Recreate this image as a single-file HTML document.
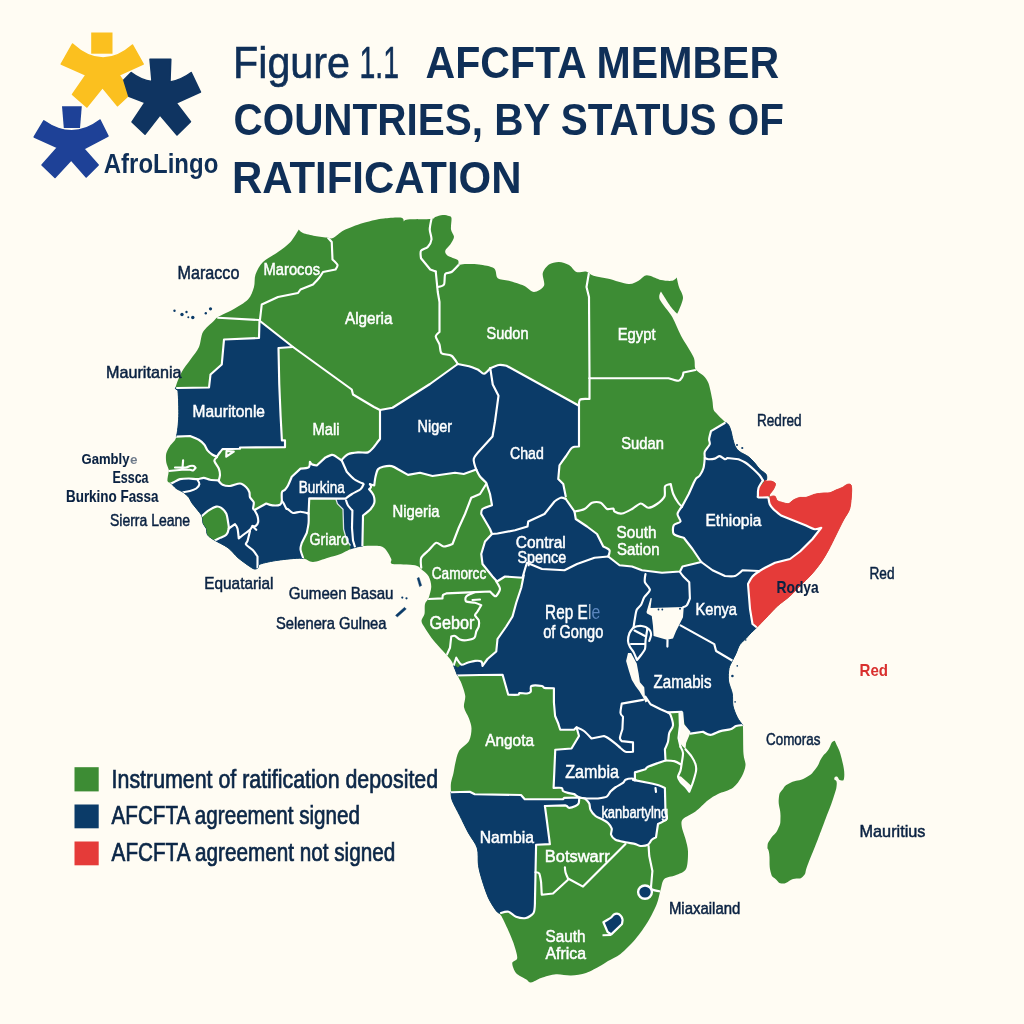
<!DOCTYPE html>
<html lang="en"><head><meta charset="utf-8"><title>AfCFTA member countries, by status of ratification</title>
<style>
html,body{margin:0;padding:0;background:#FFFCF3;}
body{width:1024px;height:1024px;overflow:hidden;font-family:"Liberation Sans",sans-serif;}
svg{display:block;font-family:"Liberation Sans",sans-serif;}
.w{fill:#ffffff;stroke:#ffffff;stroke-width:0.5px}.n{fill:#0A2242;stroke:#0A2242;stroke-width:0.5px}
.b{fill:none;stroke:#FFFFFF;stroke-width:2.15;stroke-linejoin:round;stroke-linecap:round}
</style></head><body>
<svg width="1024" height="1024" viewBox="0 0 1024 1024">
<rect width="1024" height="1024" fill="#FFFCF3"/>

<defs><clipPath id="land"><path d="M298.75,229.5 C298.75,229.50 300.56,232.03 303.00,233.00 C305.44,233.97 311.25,235.29 315.00,236.00 C318.75,236.71 325.30,237.45 328.00,237.75 C330.70,238.05 330.75,239.05 333.00,238.00 C335.25,236.95 340.00,232.47 343.00,230.75 C346.00,229.03 350.00,227.66 353.00,226.50 C356.00,225.34 359.70,223.97 363.00,223.00 C366.30,222.03 371.85,220.68 375.00,220.00 C378.15,219.32 380.02,218.84 384.00,218.50 C387.98,218.16 398.57,217.22 401.50,217.75 C404.43,218.28 403.50,222.00 403.50,222.00 C403.50,222.00 403.55,219.95 407.75,219.50 C411.95,219.05 427.38,219.38 431.50,219.00 C435.62,218.62 433.56,217.60 435.25,217.00 C436.94,216.40 440.69,215.15 442.75,215.00 C444.81,214.85 447.69,215.51 449.00,216.00 C450.31,216.49 451.20,216.22 451.50,218.25 C451.80,220.28 450.62,226.69 451.00,229.50 C451.38,232.31 454.11,234.75 454.00,237.00 C453.89,239.25 451.56,242.44 450.25,244.50 C448.94,246.56 445.62,249.06 445.25,250.75 C444.88,252.44 445.88,254.36 447.75,255.75 C449.62,257.14 456.06,258.69 457.75,260.00 C459.44,261.31 457.69,263.90 459.00,264.50 C460.31,265.10 463.50,264.00 466.50,264.00 C469.50,264.00 474.88,263.86 479.00,264.50 C483.12,265.14 491.19,266.19 494.00,268.25 C496.81,270.31 495.50,276.38 497.75,278.25 C500.00,280.12 505.06,279.62 509.00,280.75 C512.94,281.88 520.25,284.06 524.00,285.75 C527.75,287.44 531.00,292.00 534.00,292.00 C537.00,292.00 542.69,288.56 544.00,285.75 C545.31,282.94 542.00,276.44 542.75,273.25 C543.50,270.06 546.56,266.19 549.00,264.50 C551.44,262.81 556.00,261.93 559.00,262.00 C562.00,262.07 566.38,263.50 569.00,265.00 C571.62,266.50 573.95,271.02 576.50,272.00 C579.05,272.98 583.45,270.94 586.00,271.50 C588.55,272.06 590.12,274.66 593.50,275.75 C596.88,276.84 603.25,277.51 608.50,278.75 C613.75,279.99 624.00,283.70 628.50,284.00 C633.00,284.30 636.06,281.99 638.50,280.75 C640.94,279.51 643.06,276.50 644.75,275.75 C646.44,275.00 647.31,275.11 649.75,275.75 C652.19,276.39 657.62,279.25 661.00,280.00 C664.38,280.75 669.89,281.12 672.25,280.75 C674.61,280.38 676.75,277.50 676.75,277.50 C676.75,277.50 678.06,283.89 679.00,287.00 C679.94,290.11 683.26,294.24 683.00,298.25 C682.74,302.26 677.25,313.75 677.25,313.75 C677.25,313.75 673.44,310.34 671.00,307.00 C668.56,303.66 661.00,291.50 661.00,291.50 C661.00,291.50 658.06,295.68 659.75,299.50 C661.44,303.32 669.06,311.56 672.25,317.00 C675.44,322.44 677.81,329.75 681.00,335.75 C684.19,341.75 691.33,352.01 693.50,357.00 C695.67,361.99 694.00,366.19 695.50,369.00 C697.00,371.81 701.55,373.61 703.50,375.75 C705.45,377.89 707.19,379.69 708.50,383.25 C709.81,386.81 711.50,395.56 712.25,399.50 C713.00,403.44 712.75,407.29 713.50,409.50 C714.25,411.71 715.75,412.60 717.25,414.25 C718.75,415.90 721.81,418.90 723.50,420.50 C725.19,422.10 727.38,423.31 728.50,424.90 C729.62,426.49 730.34,428.95 731.00,431.10 C731.66,433.25 732.24,436.90 732.90,439.25 C733.56,441.60 734.37,444.88 735.40,446.75 C736.43,448.62 737.78,450.25 739.75,451.75 C741.72,453.25 746.25,455.06 748.50,456.75 C750.75,458.44 753.06,461.12 754.75,463.00 C756.44,464.88 758.06,467.56 759.75,469.25 C761.44,470.94 764.97,472.75 766.00,474.25 C767.03,475.75 766.75,478.16 766.60,479.25 C766.45,480.34 765.00,481.50 765.00,481.50 C765.00,481.50 769.44,480.79 771.00,481.10 C772.56,481.42 775.02,482.38 775.40,483.60 C775.77,484.82 774.35,487.65 773.50,489.25 C772.65,490.85 770.31,493.12 769.75,494.25 C769.19,495.38 769.75,496.75 769.75,496.75 C769.75,496.75 773.62,495.54 774.75,496.10 C775.88,496.66 776.12,499.56 777.25,500.50 C778.38,501.44 780.56,501.93 782.25,502.40 C783.94,502.87 786.81,503.98 788.50,503.60 C790.19,503.23 791.81,500.83 793.50,499.90 C795.19,498.97 797.88,497.77 799.75,497.40 C801.62,497.02 803.75,497.87 806.00,497.40 C808.25,496.93 812.05,494.91 814.75,494.25 C817.45,493.59 821.71,493.23 824.00,493.00 C826.29,492.77 828.20,493.20 830.00,492.75 C831.80,492.30 834.16,490.79 836.00,490.00 C837.84,489.21 840.56,488.34 842.25,487.50 C843.94,486.66 845.94,484.77 847.25,484.40 C848.56,484.02 850.35,483.78 851.00,485.00 C851.65,486.22 851.79,488.94 851.60,492.50 C851.41,496.06 850.97,504.62 849.75,508.75 C848.53,512.88 845.56,516.06 843.50,520.00 C841.44,523.94 838.25,530.50 836.00,535.00 C833.75,539.50 830.75,545.88 828.50,550.00 C826.25,554.12 823.62,558.75 821.00,562.50 C818.38,566.25 814.00,571.62 811.00,575.00 C808.00,578.38 804.19,581.81 801.00,585.00 C797.81,588.19 793.31,593.06 789.75,596.25 C786.19,599.44 780.81,602.99 777.25,606.25 C773.69,609.51 769.00,614.89 766.00,618.00 C763.00,621.11 759.65,624.60 757.25,627.00 C754.85,629.40 751.69,632.27 750.00,634.00 C748.31,635.73 747.54,636.89 746.00,638.50 C744.46,640.11 741.25,642.50 739.75,644.75 C738.25,647.00 737.12,651.06 736.00,653.50 C734.88,655.94 733.30,658.75 732.25,661.00 C731.20,663.25 729.56,665.50 729.00,668.50 C728.44,671.50 728.01,677.25 728.50,681.00 C728.99,684.75 731.58,689.75 732.25,693.50 C732.92,697.25 732.25,702.44 733.00,706.00 C733.75,709.56 735.86,714.44 737.25,717.25 C738.64,720.06 741.39,723.17 742.25,724.75 C743.11,726.33 742.81,723.36 743.00,727.75 C743.19,732.14 743.12,748.38 743.50,754.00 C743.88,759.62 745.76,761.88 745.50,765.25 C745.24,768.62 743.62,773.12 741.75,776.50 C739.88,779.88 736.56,785.12 733.00,787.75 C729.44,790.38 721.75,792.12 718.00,794.00 C714.25,795.88 711.38,797.62 708.00,800.25 C704.62,802.88 699.25,808.69 695.50,811.50 C691.75,814.31 685.06,816.75 683.00,819.00 C680.94,821.25 681.38,823.50 681.75,826.50 C682.12,829.50 684.56,835.25 685.50,839.00 C686.44,842.75 687.92,847.00 688.00,851.50 C688.08,856.00 687.88,865.44 686.00,869.00 C684.12,872.56 678.76,873.75 675.50,875.25 C672.24,876.75 666.50,876.75 664.25,879.00 C662.00,881.25 661.62,886.50 660.50,890.25 C659.38,894.00 658.62,899.31 656.75,904.00 C654.88,908.69 651.19,916.25 648.00,921.50 C644.81,926.75 639.62,934.12 635.50,939.00 C631.38,943.88 624.62,950.70 620.50,954.00 C616.38,957.30 610.92,959.27 608.00,961.00 C605.08,962.73 604.30,963.70 601.00,965.50 C597.70,967.30 590.50,971.50 586.00,973.00 C581.50,974.50 575.50,975.31 571.00,975.50 C566.50,975.69 560.50,973.88 556.00,974.25 C551.50,974.62 544.75,976.76 541.00,978.00 C537.25,979.24 533.25,982.31 531.00,982.50 C528.75,982.69 528.25,980.67 526.00,979.25 C523.75,977.83 518.06,975.44 516.00,973.00 C513.94,970.56 512.06,965.25 512.25,963.00 C512.44,960.75 517.06,961.00 517.25,958.00 C517.44,955.00 515.00,947.50 513.50,943.00 C512.00,938.50 509.12,932.12 507.25,928.00 C505.38,923.88 502.69,918.12 501.00,915.50 C499.31,912.88 497.88,913.12 496.00,910.50 C494.12,907.88 490.56,902.50 488.50,898.00 C486.44,893.50 483.75,885.38 482.25,880.50 C480.75,875.62 479.25,870.38 478.50,865.50 C477.75,860.62 478.75,852.88 477.25,848.00 C475.75,843.12 471.12,837.88 468.50,833.00 C465.88,828.12 462.19,820.38 459.75,815.50 C457.31,810.62 453.56,804.06 452.25,800.50 C450.94,796.94 451.19,794.38 451.00,791.75 C450.81,789.12 450.62,785.81 451.00,783.00 C451.38,780.19 452.86,775.92 453.50,773.00 C454.14,770.08 454.43,766.80 455.25,763.50 C456.07,760.20 456.94,754.38 459.00,751.00 C461.06,747.62 467.12,744.38 469.00,741.00 C470.88,737.62 471.50,731.88 471.50,728.50 C471.50,725.12 470.12,721.69 469.00,718.50 C467.88,715.31 464.56,710.62 464.00,707.25 C463.44,703.88 465.62,699.56 465.25,696.00 C464.88,692.44 462.62,686.50 461.50,683.50 C460.38,680.50 458.69,678.06 457.75,676.00 C456.81,673.94 456.19,672.00 455.25,669.75 C454.31,667.50 453.00,663.44 451.50,661.00 C450.00,658.56 447.88,656.50 445.25,653.50 C442.62,650.50 437.00,644.75 434.00,641.00 C431.00,637.25 427.12,631.50 425.25,628.50 C423.38,625.50 421.61,623.17 421.50,621.00 C421.39,618.83 423.98,616.55 424.50,614.00 C425.02,611.45 424.36,606.44 425.00,604.00 C425.64,601.56 427.81,600.38 428.75,597.75 C429.69,595.12 431.25,589.69 431.25,586.50 C431.25,583.31 430.06,578.94 428.75,576.50 C427.44,574.06 424.56,571.94 422.50,570.25 C420.44,568.56 419.50,566.19 415.00,565.25 C410.50,564.31 396.06,564.94 392.50,564.00 C388.94,563.06 392.19,561.06 391.25,559.00 C390.31,556.94 387.94,552.20 386.25,550.25 C384.56,548.30 383.56,546.64 380.00,546.00 C376.44,545.36 366.36,545.74 362.50,546.00 C358.64,546.26 356.05,547.30 354.25,547.75 C352.45,548.20 352.56,548.06 350.50,549.00 C348.44,549.94 343.88,552.69 340.50,554.00 C337.12,555.31 332.12,556.55 328.00,557.75 C323.88,558.95 316.94,561.92 313.00,562.00 C309.06,562.08 307.00,558.51 301.75,558.25 C296.50,557.99 284.19,559.39 278.00,560.25 C271.81,561.11 263.50,562.88 260.50,564.00 C257.50,565.12 258.94,567.00 258.00,567.75 C257.06,568.50 255.75,569.38 254.25,569.00 C252.75,568.62 250.44,566.94 248.00,565.25 C245.56,563.56 241.00,560.38 238.00,557.75 C235.00,555.12 231.64,550.45 228.00,547.75 C224.36,545.05 216.82,541.70 213.75,539.75 C210.68,537.80 208.62,536.44 207.50,534.75 C206.38,533.06 206.91,530.19 206.25,528.50 C205.59,526.81 203.75,525.38 203.10,523.50 C202.45,521.62 202.85,518.17 201.90,516.00 C200.95,513.83 198.27,510.99 196.75,509.00 C195.23,507.01 192.95,504.51 191.75,502.75 C190.55,500.99 190.05,498.82 188.75,497.25 C187.45,495.68 184.97,493.56 183.10,492.25 C181.22,490.94 178.03,489.81 176.25,488.50 C174.47,487.19 172.56,484.62 171.25,483.50 C169.94,482.38 167.91,482.57 167.50,481.00 C167.09,479.43 168.31,474.69 168.50,473.00 C168.69,471.31 169.09,471.36 168.75,469.75 C168.41,468.14 166.62,464.69 166.25,462.25 C165.88,459.81 165.69,455.94 166.25,453.50 C166.81,451.06 168.50,448.44 170.00,446.00 C171.50,443.56 174.94,441.68 176.25,437.25 C177.56,432.82 178.49,423.36 178.75,416.50 C179.01,409.64 178.49,395.81 178.00,391.50 C177.51,387.19 174.94,390.68 175.50,387.75 C176.06,384.82 179.50,376.24 181.75,372.00 C184.00,367.76 187.91,363.25 190.50,359.50 C193.09,355.75 197.12,351.12 199.00,347.00 C200.88,342.88 200.75,335.94 203.00,332.00 C205.25,328.06 211.75,323.00 214.00,320.75 C216.25,318.50 215.15,318.69 218.00,317.00 C220.85,315.31 228.50,312.12 233.00,309.50 C237.50,306.88 244.85,302.88 248.00,299.50 C251.15,296.12 252.88,290.75 254.00,287.00 C255.12,283.25 254.15,278.25 255.50,274.50 C256.85,270.75 259.62,265.38 263.00,262.00 C266.38,258.62 273.88,255.00 278.00,252.00 C282.12,249.00 287.39,245.38 290.50,242.00 C293.61,238.62 298.75,229.50 298.75,229.50Z"/></clipPath></defs>
<g id="map">
<path d="M298.75,229.5 C298.75,229.50 300.56,232.03 303.00,233.00 C305.44,233.97 311.25,235.29 315.00,236.00 C318.75,236.71 325.30,237.45 328.00,237.75 C330.70,238.05 330.75,239.05 333.00,238.00 C335.25,236.95 340.00,232.47 343.00,230.75 C346.00,229.03 350.00,227.66 353.00,226.50 C356.00,225.34 359.70,223.97 363.00,223.00 C366.30,222.03 371.85,220.68 375.00,220.00 C378.15,219.32 380.02,218.84 384.00,218.50 C387.98,218.16 398.57,217.22 401.50,217.75 C404.43,218.28 403.50,222.00 403.50,222.00 C403.50,222.00 403.55,219.95 407.75,219.50 C411.95,219.05 427.38,219.38 431.50,219.00 C435.62,218.62 433.56,217.60 435.25,217.00 C436.94,216.40 440.69,215.15 442.75,215.00 C444.81,214.85 447.69,215.51 449.00,216.00 C450.31,216.49 451.20,216.22 451.50,218.25 C451.80,220.28 450.62,226.69 451.00,229.50 C451.38,232.31 454.11,234.75 454.00,237.00 C453.89,239.25 451.56,242.44 450.25,244.50 C448.94,246.56 445.62,249.06 445.25,250.75 C444.88,252.44 445.88,254.36 447.75,255.75 C449.62,257.14 456.06,258.69 457.75,260.00 C459.44,261.31 457.69,263.90 459.00,264.50 C460.31,265.10 463.50,264.00 466.50,264.00 C469.50,264.00 474.88,263.86 479.00,264.50 C483.12,265.14 491.19,266.19 494.00,268.25 C496.81,270.31 495.50,276.38 497.75,278.25 C500.00,280.12 505.06,279.62 509.00,280.75 C512.94,281.88 520.25,284.06 524.00,285.75 C527.75,287.44 531.00,292.00 534.00,292.00 C537.00,292.00 542.69,288.56 544.00,285.75 C545.31,282.94 542.00,276.44 542.75,273.25 C543.50,270.06 546.56,266.19 549.00,264.50 C551.44,262.81 556.00,261.93 559.00,262.00 C562.00,262.07 566.38,263.50 569.00,265.00 C571.62,266.50 573.95,271.02 576.50,272.00 C579.05,272.98 583.45,270.94 586.00,271.50 C588.55,272.06 590.12,274.66 593.50,275.75 C596.88,276.84 603.25,277.51 608.50,278.75 C613.75,279.99 624.00,283.70 628.50,284.00 C633.00,284.30 636.06,281.99 638.50,280.75 C640.94,279.51 643.06,276.50 644.75,275.75 C646.44,275.00 647.31,275.11 649.75,275.75 C652.19,276.39 657.62,279.25 661.00,280.00 C664.38,280.75 669.89,281.12 672.25,280.75 C674.61,280.38 676.75,277.50 676.75,277.50 C676.75,277.50 678.06,283.89 679.00,287.00 C679.94,290.11 683.26,294.24 683.00,298.25 C682.74,302.26 677.25,313.75 677.25,313.75 C677.25,313.75 673.44,310.34 671.00,307.00 C668.56,303.66 661.00,291.50 661.00,291.50 C661.00,291.50 658.06,295.68 659.75,299.50 C661.44,303.32 669.06,311.56 672.25,317.00 C675.44,322.44 677.81,329.75 681.00,335.75 C684.19,341.75 691.33,352.01 693.50,357.00 C695.67,361.99 694.00,366.19 695.50,369.00 C697.00,371.81 701.55,373.61 703.50,375.75 C705.45,377.89 707.19,379.69 708.50,383.25 C709.81,386.81 711.50,395.56 712.25,399.50 C713.00,403.44 712.75,407.29 713.50,409.50 C714.25,411.71 715.75,412.60 717.25,414.25 C718.75,415.90 721.81,418.90 723.50,420.50 C725.19,422.10 727.38,423.31 728.50,424.90 C729.62,426.49 730.34,428.95 731.00,431.10 C731.66,433.25 732.24,436.90 732.90,439.25 C733.56,441.60 734.37,444.88 735.40,446.75 C736.43,448.62 737.78,450.25 739.75,451.75 C741.72,453.25 746.25,455.06 748.50,456.75 C750.75,458.44 753.06,461.12 754.75,463.00 C756.44,464.88 758.06,467.56 759.75,469.25 C761.44,470.94 764.97,472.75 766.00,474.25 C767.03,475.75 766.75,478.16 766.60,479.25 C766.45,480.34 765.00,481.50 765.00,481.50 C765.00,481.50 769.44,480.79 771.00,481.10 C772.56,481.42 775.02,482.38 775.40,483.60 C775.77,484.82 774.35,487.65 773.50,489.25 C772.65,490.85 770.31,493.12 769.75,494.25 C769.19,495.38 769.75,496.75 769.75,496.75 C769.75,496.75 773.62,495.54 774.75,496.10 C775.88,496.66 776.12,499.56 777.25,500.50 C778.38,501.44 780.56,501.93 782.25,502.40 C783.94,502.87 786.81,503.98 788.50,503.60 C790.19,503.23 791.81,500.83 793.50,499.90 C795.19,498.97 797.88,497.77 799.75,497.40 C801.62,497.02 803.75,497.87 806.00,497.40 C808.25,496.93 812.05,494.91 814.75,494.25 C817.45,493.59 821.71,493.23 824.00,493.00 C826.29,492.77 828.20,493.20 830.00,492.75 C831.80,492.30 834.16,490.79 836.00,490.00 C837.84,489.21 840.56,488.34 842.25,487.50 C843.94,486.66 845.94,484.77 847.25,484.40 C848.56,484.02 850.35,483.78 851.00,485.00 C851.65,486.22 851.79,488.94 851.60,492.50 C851.41,496.06 850.97,504.62 849.75,508.75 C848.53,512.88 845.56,516.06 843.50,520.00 C841.44,523.94 838.25,530.50 836.00,535.00 C833.75,539.50 830.75,545.88 828.50,550.00 C826.25,554.12 823.62,558.75 821.00,562.50 C818.38,566.25 814.00,571.62 811.00,575.00 C808.00,578.38 804.19,581.81 801.00,585.00 C797.81,588.19 793.31,593.06 789.75,596.25 C786.19,599.44 780.81,602.99 777.25,606.25 C773.69,609.51 769.00,614.89 766.00,618.00 C763.00,621.11 759.65,624.60 757.25,627.00 C754.85,629.40 751.69,632.27 750.00,634.00 C748.31,635.73 747.54,636.89 746.00,638.50 C744.46,640.11 741.25,642.50 739.75,644.75 C738.25,647.00 737.12,651.06 736.00,653.50 C734.88,655.94 733.30,658.75 732.25,661.00 C731.20,663.25 729.56,665.50 729.00,668.50 C728.44,671.50 728.01,677.25 728.50,681.00 C728.99,684.75 731.58,689.75 732.25,693.50 C732.92,697.25 732.25,702.44 733.00,706.00 C733.75,709.56 735.86,714.44 737.25,717.25 C738.64,720.06 741.39,723.17 742.25,724.75 C743.11,726.33 742.81,723.36 743.00,727.75 C743.19,732.14 743.12,748.38 743.50,754.00 C743.88,759.62 745.76,761.88 745.50,765.25 C745.24,768.62 743.62,773.12 741.75,776.50 C739.88,779.88 736.56,785.12 733.00,787.75 C729.44,790.38 721.75,792.12 718.00,794.00 C714.25,795.88 711.38,797.62 708.00,800.25 C704.62,802.88 699.25,808.69 695.50,811.50 C691.75,814.31 685.06,816.75 683.00,819.00 C680.94,821.25 681.38,823.50 681.75,826.50 C682.12,829.50 684.56,835.25 685.50,839.00 C686.44,842.75 687.92,847.00 688.00,851.50 C688.08,856.00 687.88,865.44 686.00,869.00 C684.12,872.56 678.76,873.75 675.50,875.25 C672.24,876.75 666.50,876.75 664.25,879.00 C662.00,881.25 661.62,886.50 660.50,890.25 C659.38,894.00 658.62,899.31 656.75,904.00 C654.88,908.69 651.19,916.25 648.00,921.50 C644.81,926.75 639.62,934.12 635.50,939.00 C631.38,943.88 624.62,950.70 620.50,954.00 C616.38,957.30 610.92,959.27 608.00,961.00 C605.08,962.73 604.30,963.70 601.00,965.50 C597.70,967.30 590.50,971.50 586.00,973.00 C581.50,974.50 575.50,975.31 571.00,975.50 C566.50,975.69 560.50,973.88 556.00,974.25 C551.50,974.62 544.75,976.76 541.00,978.00 C537.25,979.24 533.25,982.31 531.00,982.50 C528.75,982.69 528.25,980.67 526.00,979.25 C523.75,977.83 518.06,975.44 516.00,973.00 C513.94,970.56 512.06,965.25 512.25,963.00 C512.44,960.75 517.06,961.00 517.25,958.00 C517.44,955.00 515.00,947.50 513.50,943.00 C512.00,938.50 509.12,932.12 507.25,928.00 C505.38,923.88 502.69,918.12 501.00,915.50 C499.31,912.88 497.88,913.12 496.00,910.50 C494.12,907.88 490.56,902.50 488.50,898.00 C486.44,893.50 483.75,885.38 482.25,880.50 C480.75,875.62 479.25,870.38 478.50,865.50 C477.75,860.62 478.75,852.88 477.25,848.00 C475.75,843.12 471.12,837.88 468.50,833.00 C465.88,828.12 462.19,820.38 459.75,815.50 C457.31,810.62 453.56,804.06 452.25,800.50 C450.94,796.94 451.19,794.38 451.00,791.75 C450.81,789.12 450.62,785.81 451.00,783.00 C451.38,780.19 452.86,775.92 453.50,773.00 C454.14,770.08 454.43,766.80 455.25,763.50 C456.07,760.20 456.94,754.38 459.00,751.00 C461.06,747.62 467.12,744.38 469.00,741.00 C470.88,737.62 471.50,731.88 471.50,728.50 C471.50,725.12 470.12,721.69 469.00,718.50 C467.88,715.31 464.56,710.62 464.00,707.25 C463.44,703.88 465.62,699.56 465.25,696.00 C464.88,692.44 462.62,686.50 461.50,683.50 C460.38,680.50 458.69,678.06 457.75,676.00 C456.81,673.94 456.19,672.00 455.25,669.75 C454.31,667.50 453.00,663.44 451.50,661.00 C450.00,658.56 447.88,656.50 445.25,653.50 C442.62,650.50 437.00,644.75 434.00,641.00 C431.00,637.25 427.12,631.50 425.25,628.50 C423.38,625.50 421.61,623.17 421.50,621.00 C421.39,618.83 423.98,616.55 424.50,614.00 C425.02,611.45 424.36,606.44 425.00,604.00 C425.64,601.56 427.81,600.38 428.75,597.75 C429.69,595.12 431.25,589.69 431.25,586.50 C431.25,583.31 430.06,578.94 428.75,576.50 C427.44,574.06 424.56,571.94 422.50,570.25 C420.44,568.56 419.50,566.19 415.00,565.25 C410.50,564.31 396.06,564.94 392.50,564.00 C388.94,563.06 392.19,561.06 391.25,559.00 C390.31,556.94 387.94,552.20 386.25,550.25 C384.56,548.30 383.56,546.64 380.00,546.00 C376.44,545.36 366.36,545.74 362.50,546.00 C358.64,546.26 356.05,547.30 354.25,547.75 C352.45,548.20 352.56,548.06 350.50,549.00 C348.44,549.94 343.88,552.69 340.50,554.00 C337.12,555.31 332.12,556.55 328.00,557.75 C323.88,558.95 316.94,561.92 313.00,562.00 C309.06,562.08 307.00,558.51 301.75,558.25 C296.50,557.99 284.19,559.39 278.00,560.25 C271.81,561.11 263.50,562.88 260.50,564.00 C257.50,565.12 258.94,567.00 258.00,567.75 C257.06,568.50 255.75,569.38 254.25,569.00 C252.75,568.62 250.44,566.94 248.00,565.25 C245.56,563.56 241.00,560.38 238.00,557.75 C235.00,555.12 231.64,550.45 228.00,547.75 C224.36,545.05 216.82,541.70 213.75,539.75 C210.68,537.80 208.62,536.44 207.50,534.75 C206.38,533.06 206.91,530.19 206.25,528.50 C205.59,526.81 203.75,525.38 203.10,523.50 C202.45,521.62 202.85,518.17 201.90,516.00 C200.95,513.83 198.27,510.99 196.75,509.00 C195.23,507.01 192.95,504.51 191.75,502.75 C190.55,500.99 190.05,498.82 188.75,497.25 C187.45,495.68 184.97,493.56 183.10,492.25 C181.22,490.94 178.03,489.81 176.25,488.50 C174.47,487.19 172.56,484.62 171.25,483.50 C169.94,482.38 167.91,482.57 167.50,481.00 C167.09,479.43 168.31,474.69 168.50,473.00 C168.69,471.31 169.09,471.36 168.75,469.75 C168.41,468.14 166.62,464.69 166.25,462.25 C165.88,459.81 165.69,455.94 166.25,453.50 C166.81,451.06 168.50,448.44 170.00,446.00 C171.50,443.56 174.94,441.68 176.25,437.25 C177.56,432.82 178.49,423.36 178.75,416.50 C179.01,409.64 178.49,395.81 178.00,391.50 C177.51,387.19 174.94,390.68 175.50,387.75 C176.06,384.82 179.50,376.24 181.75,372.00 C184.00,367.76 187.91,363.25 190.50,359.50 C193.09,355.75 197.12,351.12 199.00,347.00 C200.88,342.88 200.75,335.94 203.00,332.00 C205.25,328.06 211.75,323.00 214.00,320.75 C216.25,318.50 215.15,318.69 218.00,317.00 C220.85,315.31 228.50,312.12 233.00,309.50 C237.50,306.88 244.85,302.88 248.00,299.50 C251.15,296.12 252.88,290.75 254.00,287.00 C255.12,283.25 254.15,278.25 255.50,274.50 C256.85,270.75 259.62,265.38 263.00,262.00 C266.38,258.62 273.88,255.00 278.00,252.00 C282.12,249.00 287.39,245.38 290.50,242.00 C293.61,238.62 298.75,229.50 298.75,229.50Z" fill="#3D8C34"/>
<path d="M833,741.5 C835.33,740.17 834.42,740.58 836.75,745.25 C839.08,749.92 839.75,750.67 841.75,759.00 C843.75,767.33 844.58,770.83 844.25,776.50 C843.92,782.17 842.50,780.25 840.50,780.25 C838.50,780.25 838.42,776.83 836.75,776.50 C835.08,776.17 834.25,777.00 834.25,779.00 C834.25,781.00 837.08,778.67 836.75,784.00 C836.42,789.33 836.00,789.67 833.00,799.00 C830.00,808.33 829.50,808.33 825.50,819.00 C821.50,829.67 822.67,827.00 818.00,839.00 C813.33,851.00 812.00,854.00 808.00,864.00 C804.00,874.00 807.00,872.50 803.00,876.50 C799.00,880.50 798.33,877.13 793.00,879.00 C787.67,880.87 787.67,883.50 783.00,883.50 C778.33,883.50 778.83,882.20 775.50,879.00 C772.17,875.80 772.17,878.17 770.50,871.50 C768.83,864.83 770.05,860.67 769.25,854.00 C768.45,847.33 767.17,850.50 767.50,846.50 C767.83,842.50 767.70,843.67 770.50,839.00 C773.30,834.33 775.33,835.00 778.00,829.00 C780.67,823.00 780.30,824.50 780.50,816.50 C780.70,808.50 778.08,806.33 778.75,799.00 C779.42,791.67 779.87,793.33 783.00,789.00 C786.13,784.67 784.50,785.75 790.50,782.75 C796.50,779.75 798.83,781.42 805.50,777.75 C812.17,774.08 811.17,774.33 815.50,769.00 C819.83,763.67 818.42,762.75 821.75,757.75 C825.08,752.75 825.00,754.58 828.00,750.25 C831.00,745.92 830.67,742.83 833.00,741.50Z" fill="#3D8C34"/>
<mask id="landm" maskUnits="userSpaceOnUse" x="0" y="0" width="1024" height="1024"><path d="M298.75,229.5 C298.75,229.50 300.56,232.03 303.00,233.00 C305.44,233.97 311.25,235.29 315.00,236.00 C318.75,236.71 325.30,237.45 328.00,237.75 C330.70,238.05 330.75,239.05 333.00,238.00 C335.25,236.95 340.00,232.47 343.00,230.75 C346.00,229.03 350.00,227.66 353.00,226.50 C356.00,225.34 359.70,223.97 363.00,223.00 C366.30,222.03 371.85,220.68 375.00,220.00 C378.15,219.32 380.02,218.84 384.00,218.50 C387.98,218.16 398.57,217.22 401.50,217.75 C404.43,218.28 403.50,222.00 403.50,222.00 C403.50,222.00 403.55,219.95 407.75,219.50 C411.95,219.05 427.38,219.38 431.50,219.00 C435.62,218.62 433.56,217.60 435.25,217.00 C436.94,216.40 440.69,215.15 442.75,215.00 C444.81,214.85 447.69,215.51 449.00,216.00 C450.31,216.49 451.20,216.22 451.50,218.25 C451.80,220.28 450.62,226.69 451.00,229.50 C451.38,232.31 454.11,234.75 454.00,237.00 C453.89,239.25 451.56,242.44 450.25,244.50 C448.94,246.56 445.62,249.06 445.25,250.75 C444.88,252.44 445.88,254.36 447.75,255.75 C449.62,257.14 456.06,258.69 457.75,260.00 C459.44,261.31 457.69,263.90 459.00,264.50 C460.31,265.10 463.50,264.00 466.50,264.00 C469.50,264.00 474.88,263.86 479.00,264.50 C483.12,265.14 491.19,266.19 494.00,268.25 C496.81,270.31 495.50,276.38 497.75,278.25 C500.00,280.12 505.06,279.62 509.00,280.75 C512.94,281.88 520.25,284.06 524.00,285.75 C527.75,287.44 531.00,292.00 534.00,292.00 C537.00,292.00 542.69,288.56 544.00,285.75 C545.31,282.94 542.00,276.44 542.75,273.25 C543.50,270.06 546.56,266.19 549.00,264.50 C551.44,262.81 556.00,261.93 559.00,262.00 C562.00,262.07 566.38,263.50 569.00,265.00 C571.62,266.50 573.95,271.02 576.50,272.00 C579.05,272.98 583.45,270.94 586.00,271.50 C588.55,272.06 590.12,274.66 593.50,275.75 C596.88,276.84 603.25,277.51 608.50,278.75 C613.75,279.99 624.00,283.70 628.50,284.00 C633.00,284.30 636.06,281.99 638.50,280.75 C640.94,279.51 643.06,276.50 644.75,275.75 C646.44,275.00 647.31,275.11 649.75,275.75 C652.19,276.39 657.62,279.25 661.00,280.00 C664.38,280.75 669.89,281.12 672.25,280.75 C674.61,280.38 676.75,277.50 676.75,277.50 C676.75,277.50 678.06,283.89 679.00,287.00 C679.94,290.11 683.26,294.24 683.00,298.25 C682.74,302.26 677.25,313.75 677.25,313.75 C677.25,313.75 673.44,310.34 671.00,307.00 C668.56,303.66 661.00,291.50 661.00,291.50 C661.00,291.50 658.06,295.68 659.75,299.50 C661.44,303.32 669.06,311.56 672.25,317.00 C675.44,322.44 677.81,329.75 681.00,335.75 C684.19,341.75 691.33,352.01 693.50,357.00 C695.67,361.99 694.00,366.19 695.50,369.00 C697.00,371.81 701.55,373.61 703.50,375.75 C705.45,377.89 707.19,379.69 708.50,383.25 C709.81,386.81 711.50,395.56 712.25,399.50 C713.00,403.44 712.75,407.29 713.50,409.50 C714.25,411.71 715.75,412.60 717.25,414.25 C718.75,415.90 721.81,418.90 723.50,420.50 C725.19,422.10 727.38,423.31 728.50,424.90 C729.62,426.49 730.34,428.95 731.00,431.10 C731.66,433.25 732.24,436.90 732.90,439.25 C733.56,441.60 734.37,444.88 735.40,446.75 C736.43,448.62 737.78,450.25 739.75,451.75 C741.72,453.25 746.25,455.06 748.50,456.75 C750.75,458.44 753.06,461.12 754.75,463.00 C756.44,464.88 758.06,467.56 759.75,469.25 C761.44,470.94 764.97,472.75 766.00,474.25 C767.03,475.75 766.75,478.16 766.60,479.25 C766.45,480.34 765.00,481.50 765.00,481.50 C765.00,481.50 769.44,480.79 771.00,481.10 C772.56,481.42 775.02,482.38 775.40,483.60 C775.77,484.82 774.35,487.65 773.50,489.25 C772.65,490.85 770.31,493.12 769.75,494.25 C769.19,495.38 769.75,496.75 769.75,496.75 C769.75,496.75 773.62,495.54 774.75,496.10 C775.88,496.66 776.12,499.56 777.25,500.50 C778.38,501.44 780.56,501.93 782.25,502.40 C783.94,502.87 786.81,503.98 788.50,503.60 C790.19,503.23 791.81,500.83 793.50,499.90 C795.19,498.97 797.88,497.77 799.75,497.40 C801.62,497.02 803.75,497.87 806.00,497.40 C808.25,496.93 812.05,494.91 814.75,494.25 C817.45,493.59 821.71,493.23 824.00,493.00 C826.29,492.77 828.20,493.20 830.00,492.75 C831.80,492.30 834.16,490.79 836.00,490.00 C837.84,489.21 840.56,488.34 842.25,487.50 C843.94,486.66 845.94,484.77 847.25,484.40 C848.56,484.02 850.35,483.78 851.00,485.00 C851.65,486.22 851.79,488.94 851.60,492.50 C851.41,496.06 850.97,504.62 849.75,508.75 C848.53,512.88 845.56,516.06 843.50,520.00 C841.44,523.94 838.25,530.50 836.00,535.00 C833.75,539.50 830.75,545.88 828.50,550.00 C826.25,554.12 823.62,558.75 821.00,562.50 C818.38,566.25 814.00,571.62 811.00,575.00 C808.00,578.38 804.19,581.81 801.00,585.00 C797.81,588.19 793.31,593.06 789.75,596.25 C786.19,599.44 780.81,602.99 777.25,606.25 C773.69,609.51 769.00,614.89 766.00,618.00 C763.00,621.11 759.65,624.60 757.25,627.00 C754.85,629.40 751.69,632.27 750.00,634.00 C748.31,635.73 747.54,636.89 746.00,638.50 C744.46,640.11 741.25,642.50 739.75,644.75 C738.25,647.00 737.12,651.06 736.00,653.50 C734.88,655.94 733.30,658.75 732.25,661.00 C731.20,663.25 729.56,665.50 729.00,668.50 C728.44,671.50 728.01,677.25 728.50,681.00 C728.99,684.75 731.58,689.75 732.25,693.50 C732.92,697.25 732.25,702.44 733.00,706.00 C733.75,709.56 735.86,714.44 737.25,717.25 C738.64,720.06 741.39,723.17 742.25,724.75 C743.11,726.33 742.81,723.36 743.00,727.75 C743.19,732.14 743.12,748.38 743.50,754.00 C743.88,759.62 745.76,761.88 745.50,765.25 C745.24,768.62 743.62,773.12 741.75,776.50 C739.88,779.88 736.56,785.12 733.00,787.75 C729.44,790.38 721.75,792.12 718.00,794.00 C714.25,795.88 711.38,797.62 708.00,800.25 C704.62,802.88 699.25,808.69 695.50,811.50 C691.75,814.31 685.06,816.75 683.00,819.00 C680.94,821.25 681.38,823.50 681.75,826.50 C682.12,829.50 684.56,835.25 685.50,839.00 C686.44,842.75 687.92,847.00 688.00,851.50 C688.08,856.00 687.88,865.44 686.00,869.00 C684.12,872.56 678.76,873.75 675.50,875.25 C672.24,876.75 666.50,876.75 664.25,879.00 C662.00,881.25 661.62,886.50 660.50,890.25 C659.38,894.00 658.62,899.31 656.75,904.00 C654.88,908.69 651.19,916.25 648.00,921.50 C644.81,926.75 639.62,934.12 635.50,939.00 C631.38,943.88 624.62,950.70 620.50,954.00 C616.38,957.30 610.92,959.27 608.00,961.00 C605.08,962.73 604.30,963.70 601.00,965.50 C597.70,967.30 590.50,971.50 586.00,973.00 C581.50,974.50 575.50,975.31 571.00,975.50 C566.50,975.69 560.50,973.88 556.00,974.25 C551.50,974.62 544.75,976.76 541.00,978.00 C537.25,979.24 533.25,982.31 531.00,982.50 C528.75,982.69 528.25,980.67 526.00,979.25 C523.75,977.83 518.06,975.44 516.00,973.00 C513.94,970.56 512.06,965.25 512.25,963.00 C512.44,960.75 517.06,961.00 517.25,958.00 C517.44,955.00 515.00,947.50 513.50,943.00 C512.00,938.50 509.12,932.12 507.25,928.00 C505.38,923.88 502.69,918.12 501.00,915.50 C499.31,912.88 497.88,913.12 496.00,910.50 C494.12,907.88 490.56,902.50 488.50,898.00 C486.44,893.50 483.75,885.38 482.25,880.50 C480.75,875.62 479.25,870.38 478.50,865.50 C477.75,860.62 478.75,852.88 477.25,848.00 C475.75,843.12 471.12,837.88 468.50,833.00 C465.88,828.12 462.19,820.38 459.75,815.50 C457.31,810.62 453.56,804.06 452.25,800.50 C450.94,796.94 451.19,794.38 451.00,791.75 C450.81,789.12 450.62,785.81 451.00,783.00 C451.38,780.19 452.86,775.92 453.50,773.00 C454.14,770.08 454.43,766.80 455.25,763.50 C456.07,760.20 456.94,754.38 459.00,751.00 C461.06,747.62 467.12,744.38 469.00,741.00 C470.88,737.62 471.50,731.88 471.50,728.50 C471.50,725.12 470.12,721.69 469.00,718.50 C467.88,715.31 464.56,710.62 464.00,707.25 C463.44,703.88 465.62,699.56 465.25,696.00 C464.88,692.44 462.62,686.50 461.50,683.50 C460.38,680.50 458.69,678.06 457.75,676.00 C456.81,673.94 456.19,672.00 455.25,669.75 C454.31,667.50 453.00,663.44 451.50,661.00 C450.00,658.56 447.88,656.50 445.25,653.50 C442.62,650.50 437.00,644.75 434.00,641.00 C431.00,637.25 427.12,631.50 425.25,628.50 C423.38,625.50 421.61,623.17 421.50,621.00 C421.39,618.83 423.98,616.55 424.50,614.00 C425.02,611.45 424.36,606.44 425.00,604.00 C425.64,601.56 427.81,600.38 428.75,597.75 C429.69,595.12 431.25,589.69 431.25,586.50 C431.25,583.31 430.06,578.94 428.75,576.50 C427.44,574.06 424.56,571.94 422.50,570.25 C420.44,568.56 419.50,566.19 415.00,565.25 C410.50,564.31 396.06,564.94 392.50,564.00 C388.94,563.06 392.19,561.06 391.25,559.00 C390.31,556.94 387.94,552.20 386.25,550.25 C384.56,548.30 383.56,546.64 380.00,546.00 C376.44,545.36 366.36,545.74 362.50,546.00 C358.64,546.26 356.05,547.30 354.25,547.75 C352.45,548.20 352.56,548.06 350.50,549.00 C348.44,549.94 343.88,552.69 340.50,554.00 C337.12,555.31 332.12,556.55 328.00,557.75 C323.88,558.95 316.94,561.92 313.00,562.00 C309.06,562.08 307.00,558.51 301.75,558.25 C296.50,557.99 284.19,559.39 278.00,560.25 C271.81,561.11 263.50,562.88 260.50,564.00 C257.50,565.12 258.94,567.00 258.00,567.75 C257.06,568.50 255.75,569.38 254.25,569.00 C252.75,568.62 250.44,566.94 248.00,565.25 C245.56,563.56 241.00,560.38 238.00,557.75 C235.00,555.12 231.64,550.45 228.00,547.75 C224.36,545.05 216.82,541.70 213.75,539.75 C210.68,537.80 208.62,536.44 207.50,534.75 C206.38,533.06 206.91,530.19 206.25,528.50 C205.59,526.81 203.75,525.38 203.10,523.50 C202.45,521.62 202.85,518.17 201.90,516.00 C200.95,513.83 198.27,510.99 196.75,509.00 C195.23,507.01 192.95,504.51 191.75,502.75 C190.55,500.99 190.05,498.82 188.75,497.25 C187.45,495.68 184.97,493.56 183.10,492.25 C181.22,490.94 178.03,489.81 176.25,488.50 C174.47,487.19 172.56,484.62 171.25,483.50 C169.94,482.38 167.91,482.57 167.50,481.00 C167.09,479.43 168.31,474.69 168.50,473.00 C168.69,471.31 169.09,471.36 168.75,469.75 C168.41,468.14 166.62,464.69 166.25,462.25 C165.88,459.81 165.69,455.94 166.25,453.50 C166.81,451.06 168.50,448.44 170.00,446.00 C171.50,443.56 174.94,441.68 176.25,437.25 C177.56,432.82 178.49,423.36 178.75,416.50 C179.01,409.64 178.49,395.81 178.00,391.50 C177.51,387.19 174.94,390.68 175.50,387.75 C176.06,384.82 179.50,376.24 181.75,372.00 C184.00,367.76 187.91,363.25 190.50,359.50 C193.09,355.75 197.12,351.12 199.00,347.00 C200.88,342.88 200.75,335.94 203.00,332.00 C205.25,328.06 211.75,323.00 214.00,320.75 C216.25,318.50 215.15,318.69 218.00,317.00 C220.85,315.31 228.50,312.12 233.00,309.50 C237.50,306.88 244.85,302.88 248.00,299.50 C251.15,296.12 252.88,290.75 254.00,287.00 C255.12,283.25 254.15,278.25 255.50,274.50 C256.85,270.75 259.62,265.38 263.00,262.00 C266.38,258.62 273.88,255.00 278.00,252.00 C282.12,249.00 287.39,245.38 290.50,242.00 C293.61,238.62 298.75,229.50 298.75,229.50Z" fill="#fff" stroke="#fff" stroke-width="1" stroke-linejoin="round"/></mask>
<g mask="url(#landm)">
<polygon points="259.5,322.5 293,347.5 278.5,348 279.25,384 280.6,416 281.9,440.4 285,440.4 285,447.25 240,447.5 240,448.75 222.5,449.1 220,452.25 216.9,456.6 212.5,454.75 207.5,450.4 204.4,444.75 198.75,439.75 190,436 176.25,436.6 160,437 160,388 209,387.5 210.5,374.5 221.75,364.5 224,339.5 259,338" fill="#0B3B68" stroke="#0B3B68" stroke-width="0.8"/>
<polygon points="155,484 170,484 173.75,482.25 180,479.1 188.75,478.5 197.5,479.1 203.75,477.9 210,479.75 218.75,480.4 222.5,484.75 230,486 240,483.5 246.25,487.25 249.4,492.25 250,497.25 253.75,502.25 253.1,508.5 255,510.4 266.25,503.5 272.5,505.4 280,504.75 281.9,501 283.75,503.5 286.25,508.5 288,509.25 293,513 300.5,511.75 308.6,513.6 308.6,523 306.75,533 301.75,543 300.5,549.25 303,557.5 303,585 155,585" fill="#0B3B68" stroke="#0B3B68" stroke-width="0.8"/>
<polygon points="281.9,501 281.9,492.25 285,489.75 288,485.5 291.75,476.75 300.5,468.6 308.6,467.4 309.9,461.75 311.75,464.25 316.75,465.5 325.5,457.4 331.75,454.9 334.25,455.5 341.75,460.5 346.75,471.75 354.25,479.25 363,483.6 360.5,489.25 352,494 345.5,498.6 309.25,498.4 308.6,513.6 300.5,511.75 293,513 288,509.25 286.25,508.5 283.75,503.5" fill="#0B3B68" stroke="#0B3B68" stroke-width="0.8"/>
<polygon points="336,498.6 345.5,498.6 352,494 360.5,489.25 363,483.6 369.9,484.25 371.1,486.75 369.25,489.25 373.6,495.5 374.25,503 370.5,509.25 363,515.5 362.4,560 352,560 350.5,545.5 346.75,540.5 343.6,529.25 343,509.25 337.4,503.6" fill="#0B3B68" stroke="#0B3B68" stroke-width="0.8"/>
<polygon points="380,410 392.5,407.75 430,384 457.75,364 469,366.25 477.75,369.5 484,373.75 490.25,368.25 492.75,384.5 498.5,395.75 495,421.5 492.5,436.5 480,450.25 473.75,459 476.25,469.5 463.75,474 455,472.75 432.5,476 420,472.75 408,474.9 398,469.25 391.75,466.1 383,466.75 378,469.25 375.5,476.75 374.25,485.5 369.9,484.25 363,483.6 354.25,479.25 346.75,471.75 341.75,460.5 348,454.25 358,452.4 368,452.4 373,448 378,441.5 380,439" fill="#0B3B68" stroke="#0B3B68" stroke-width="0.8"/>
<polygon points="490.25,368.25 499,365 506.5,365.75 579,405.75 579,446.5 572,447.75 565.75,456.5 559.5,465.25 558.25,479 563.25,484 565.75,496.5 560.75,497.75 554.5,501.5 544.5,514 528.25,521.5 527.5,526.5 515,530.25 497.5,533.5 492,534 490,529 481.25,514 482.5,509 492,505.25 490,494 486.25,482.75 480,476.5 476.25,469.5 473.75,459 480,450.25 492.5,436.5 495,421.5 498.5,395.75 492.75,384.5" fill="#0B3B68" stroke="#0B3B68" stroke-width="0.8"/>
<polygon points="492,534 497.5,533.5 515,530.25 527.5,526.5 528.25,521.5 544.5,514 554.5,501.5 560.75,497.75 565.75,499 574.5,511.5 575.75,519 587,526.5 597,534 603.25,546.5 609.5,550.25 608.25,556.5 594.5,557.75 577,564 564.5,570.25 542,569 527,562.75 525,569 522.5,577.75 505,576.5 497,581.5 492.5,576.5 482.5,564 481.25,554 485,541.5" fill="#0B3B68" stroke="#0B3B68" stroke-width="0.8"/>
<polygon points="522.5,577.75 525,569 527,562.75 542,569 564.5,570.25 577,564 594.5,557.75 608.25,556.5 619.5,565.25 632,566.5 642,570.25 662,572.75 680,571.5 682.5,566.5 701.25,562 692.5,549 683.75,537.75 673.75,534 673.75,525.25 680.5,521.5 677.5,514 680,509 682.5,505.75 688.75,494 693.75,482.75 696,478.6 699.75,475.5 703.5,468 704.75,458 704.75,451.75 709.75,444.25 709.1,439.25 711,431.1 724.75,423 740,418 780,465 772,481 762.9,481 758.5,488 757.9,495.5 758.5,497.4 768.5,498 769.75,504.25 773.5,509.25 781,515.5 793.5,520.5 806,525.5 814.75,529.25 821.25,527.75 812.5,539 800,551.5 790,559 775,562.75 765,567.75 758.75,571.5 752.5,576.5 748,584 750,609 752.5,624 756.25,627 765,640 765,726 743,725 736,726.1 730.5,729.25 720.5,731.1 710.5,734.9 703,731.75 690.5,733.6 686,728 684,720 683,712 668,712.4 670.5,714.9 673,725.5 669.25,733 668,741.75 664.9,749.25 665.5,760.5 658,763 648,766.75 645.5,769.25 634.9,772.4 634.9,780.2 649.25,783 659.25,785.5 664.9,788 665.5,813 666.75,819 658,824 656,837.25 651.75,839.75 648,844.75 640.5,846 635.5,844.1 625.5,842.25 615.5,839.75 611.1,834.75 611.75,828.5 608,822.9 603,819.75 595.5,816 590.5,809.75 589.25,803.5 585.5,799.1 579.25,797.5 574.25,794.1 568,792.9 563,791 561.75,787.9 553.6,787.9 555.25,749.75 571.5,748.5 579,736 576.5,727.25 574,729.75 560.25,729.75 559,726 558.25,723.5 555.1,716 553.9,702.25 553.9,688.25 544.5,687.9 542,686 531.4,686 530.75,691.6 527,693.5 519.5,693 518.25,694.75 508.25,694.75 502.6,674.75 455.75,675.5 440,676 440,668 453.75,665.25 458,668 461.25,664.6 467.5,662.75 475,660.9 481.25,661.5 482.5,665.9 487.5,659 496.25,651.5 497.5,639 506.25,626.5 512.5,616.5 516.25,602.75 521.25,587.75 523.75,575.25" fill="#0B3B68" stroke="#0B3B68" stroke-width="0.8"/>
<polygon points="435,792.25 451,792.25 469.75,791.75 474.75,794.25 521,795 524.75,799.25 563,799.1 564.25,797.9 579.25,797.5 578.6,803.5 575.5,806 569.25,807.9 566.75,806 565.5,805.4 544.9,806 546.75,819.75 549.9,844.1 536.1,844.75 535.5,873.5 534.9,904 533.5,913 526,918 516,916.75 508.5,911.75 501,913 490,914 435,830" fill="#0B3B68" stroke="#0B3B68" stroke-width="0.8"/>
<polygon points="768.5,498 769.75,504.25 773.5,509.25 781,515.5 793.5,520.5 806,525.5 814.75,529.25 821.25,527.75 812.5,539 800,551.5 790,559 775,562.75 765,567.75 758.75,571.5 752.5,576.5 748,584 750,609 752.5,624 756.25,627 760,640 870,560 870,475 790,480 780,493 772,494.5" fill="#E53B39" />
<polygon points="763.5,482.4 764.5,480.2 771,479.3 777,482.5 776,489 772,495 767,497 758,497 758.5,488 761,485.5" fill="#E53B39" />
</g>
<g clip-path="url(#land)">
<polygon points="201.9,516 208.75,510.4 216.25,506.6 221.25,507.9 226.25,513.5 228.1,522.25 228.75,528.5 226.25,534.75 220,537.9 215,540.4 205,545 190,520" fill="#3D8C34" />
<polygon points="650.5,608 683.6,607 683.6,609 683,617.25 679.9,623.5 676.1,631 673,638.5 666.75,639.75 658,637.25 653.6,636 653,626 651.75,616 647,613.5 646.5,612 650.6,598 651.8,598.3" fill="#FFFCF3" />
<polygon points="628,653 631.1,653 636.75,663.5 638.6,673.5 639.9,682.25 644.25,687.25 644.9,696 648,701 645.5,702.5 643,697.25 639.25,691 635.5,686 631.75,679.75 628.6,669.75 626.1,661" fill="#FFFCF3" />
<polygon points="679.5,712.5 683.2,712 684.25,724.25 690.5,731.75 689.25,735.5 686.1,743 685.5,749 683,746.75 678.8,741.75 679.9,729.25" fill="#FFFCF3" />
<polygon points="678,776 680.5,781.75 685.5,786.75 689.25,792 691.5,786 686,781 681,776.5" fill="#FFFCF3" />
<path class="b" d="M328,237.75 L331.75,242.00 L332.50,259.50 C332.50,259.50 337.10,263.67 337.50,265.00 C337.90,266.33 335.50,269.50 335.50,269.50 L323.00,272.00 C323.00,272.00 320.33,276.33 319.00,278.00 C317.67,279.67 313.00,284.50 313.00,284.50 L300.50,289.50 L298.00,293.00 L278.00,297.00 L261.75,304.50 L260.00,319.50"/>
<path class="b" d="M218,317.75 L259,320"/>
<path class="b" d="M259.5,320 L259.00,338.00 L224.00,339.50 L221.75,364.50 L210.50,374.50 L209.00,387.50 L177.00,388.00"/>
<path class="b" d="M260,321 L293.00,347.00 L351.75,389.50 L353.00,394.50 L374.00,407.00 L380.00,410.00"/>
<path class="b" d="M293,347 L278.50,348.00 L279.25,384.00 L280.60,416.00 L281.90,440.40 L285.00,440.40 L285.00,447.25 L240.00,447.50 L240.00,448.75 L222.50,449.10 C222.50,449.10 220.75,451.25 220.00,452.25 C219.25,453.25 216.90,456.60 216.90,456.60"/>
<path class="b" d="M226.5,451 L233.75,451.60 L226.25,456.60 L226.50,451.00"/>
<path class="b" d="M176.25,436.6 L190.00,436.00 C190.00,436.00 196.83,438.58 198.75,439.75 C200.67,440.92 203.23,443.33 204.40,444.75 C205.57,446.17 206.42,449.07 207.50,450.40 C208.58,451.73 211.25,453.92 212.50,454.75 C213.75,455.58 216.90,456.60 216.90,456.60"/>
<path class="b" d="M216.9,457.25 C216.90,457.25 214.15,459.50 214.40,461.00 C214.65,462.50 218.00,466.67 218.75,468.50 C219.50,470.33 220.00,473.16 220.00,474.75 C220.00,476.34 218.75,480.40 218.75,480.40"/>
<path class="b" d="M170,484 C170.00,484.00 172.42,482.90 173.75,482.25 C175.08,481.60 178.00,479.60 180.00,479.10 C182.00,478.60 186.42,478.50 188.75,478.50 C191.08,478.50 195.50,479.18 197.50,479.10 C199.50,479.02 202.08,477.81 203.75,477.90 C205.42,477.99 208.00,479.42 210.00,479.75 C212.00,480.08 218.75,480.40 218.75,480.40"/>
<path class="b" d="M168.75,471 L182.00,469.80 C182.00,469.80 188.52,469.67 190.00,469.75 C191.48,469.83 192.35,470.65 193.10,470.40 C193.85,470.15 195.60,467.90 195.60,467.90 C195.60,467.90 194.50,466.25 193.75,466.00 C193.00,465.75 191.03,465.80 190.00,466.00 C188.97,466.20 188.00,467.30 186.00,467.50 C184.00,467.70 175.00,467.50 175.00,467.50"/>
<path class="b" d="M183.1,460.4 L182.5,468"/>
<path class="b" d="M197.5,479.75 C197.50,479.75 199.57,482.93 199.40,484.10 C199.23,485.27 197.50,487.58 196.25,488.50 C195.00,489.42 191.75,490.50 190.00,491.00 C188.25,491.50 183.10,492.25 183.10,492.25"/>
<path class="b" d="M218.75,481 C218.75,481.00 221.00,484.08 222.50,484.75 C224.00,485.42 227.67,486.17 230.00,486.00 C232.33,485.83 237.83,483.33 240.00,483.50 C242.17,483.67 245.00,486.08 246.25,487.25 C247.50,488.42 248.90,490.92 249.40,492.25 C249.90,493.58 249.42,495.92 250.00,497.25 C250.58,498.58 253.34,500.75 253.75,502.25 C254.16,503.75 252.93,507.41 253.10,508.50 C253.27,509.59 255.00,510.40 255.00,510.40"/>
<path class="b" d="M255,509.75 L266.25,503.50 C266.25,503.50 270.67,505.23 272.50,505.40 C274.33,505.57 278.75,505.34 280.00,504.75 C281.25,504.16 281.90,501.00 281.90,501.00"/>
<path class="b" d="M281.9,501 C281.90,501.00 281.49,493.75 281.90,492.25 C282.31,490.75 284.19,490.65 285.00,489.75 C285.81,488.85 287.10,487.23 288.00,485.50 C288.90,483.77 291.75,476.75 291.75,476.75 L300.50,468.60 C300.50,468.60 307.35,468.31 308.60,467.40 C309.85,466.49 309.90,461.75 309.90,461.75 C309.90,461.75 310.84,463.75 311.75,464.25 C312.66,464.75 316.75,465.50 316.75,465.50 L325.50,457.40 C325.50,457.40 330.58,455.15 331.75,454.90 C332.92,454.65 332.92,454.75 334.25,455.50 C335.58,456.25 341.75,460.50 341.75,460.50"/>
<path class="b" d="M341.75,459.9 C341.75,459.90 345.83,455.25 348.00,454.25 C350.17,453.25 355.33,452.65 358.00,452.40 C360.67,452.15 366.00,452.99 368.00,452.40 C370.00,451.81 371.67,449.45 373.00,448.00 C374.33,446.55 377.07,442.70 378.00,441.50 C378.93,440.30 380.00,439.00 380.00,439.00 L380.00,410.00"/>
<path class="b" d="M380,410 L392.50,407.75 L430.00,384.00 L457.75,364.00"/>
<path class="b" d="M341.75,460.5 L346.75,471.75 C346.75,471.75 352.08,477.67 354.25,479.25 C356.42,480.83 363.00,483.60 363.00,483.60"/>
<path class="b" d="M363.6,484.25 C363.60,484.25 362.05,487.95 360.50,489.25 C358.95,490.55 354.00,492.75 352.00,494.00 C350.00,495.25 345.50,498.60 345.50,498.60 L309.25,498.40 L308.60,513.60 C308.60,513.60 302.58,511.83 300.50,511.75 C298.42,511.67 294.67,513.33 293.00,513.00 C291.33,512.67 288.90,509.85 288.00,509.25 C287.10,508.65 286.82,509.27 286.25,508.50 C285.68,507.73 284.33,504.50 283.75,503.50 C283.17,502.50 281.90,501.00 281.90,501.00"/>
<path class="b" d="M308.6,513.6 C308.60,513.60 308.85,520.41 308.60,523.00 C308.35,525.59 306.75,533.00 306.75,533.00 L301.75,543.00 C301.75,543.00 300.33,547.32 300.50,549.25 C300.67,551.18 303.00,557.50 303.00,557.50"/>
<path class="b" d="M346.1,500.5 C346.10,500.50 347.16,504.17 348.00,505.50 C348.84,506.83 352.40,510.50 352.40,510.50 L352.00,528.00 L353.00,540.50 L354.90,546.75"/>
<path class="b" d="M369.25,489.25 C369.25,489.25 372.93,493.67 373.60,495.50 C374.27,497.33 374.66,501.17 374.25,503.00 C373.84,504.83 372.00,507.58 370.50,509.25 C369.00,510.92 363.00,515.50 363.00,515.50 L362.40,546.10"/>
<path class="b" d="M369.9,484.25 C369.90,484.25 371.19,486.08 371.10,486.75 C371.01,487.42 369.25,489.25 369.25,489.25"/>
<path class="b" d="M201.9,516 C201.90,516.00 206.84,511.65 208.75,510.40 C210.66,509.15 214.58,506.93 216.25,506.60 C217.92,506.27 219.92,506.98 221.25,507.90 C222.58,508.82 225.34,511.59 226.25,513.50 C227.16,515.41 227.77,520.25 228.10,522.25 C228.43,524.25 229.00,526.83 228.75,528.50 C228.50,530.17 227.42,533.50 226.25,534.75 C225.08,536.00 221.50,537.15 220.00,537.90 C218.50,538.65 215.00,540.40 215.00,540.40"/>
<path class="b" d="M228.75,528.5 L235.00,524.10 C235.00,524.10 237.00,526.58 237.50,528.50 C238.00,530.42 238.75,538.50 238.75,538.50 C238.75,538.50 243.50,534.67 245.00,533.50 C246.50,532.33 249.00,530.75 250.00,529.75 C251.00,528.75 252.50,526.00 252.50,526.00 L256.25,529.75"/>
<path class="b" d="M255,511 C255.00,511.00 257.09,514.50 257.50,516.00 C257.91,517.50 258.35,520.92 258.10,522.25 C257.85,523.58 256.35,525.50 255.60,526.00 C254.85,526.50 252.50,526.00 252.50,526.00"/>
<path class="b" d="M250,531 C250.00,531.00 248.03,539.20 247.50,541.00 C246.97,542.80 245.27,543.27 246.00,544.50 C246.73,545.73 251.47,548.65 253.00,550.25 C254.53,551.85 257.50,556.50 257.50,556.50 L257.50,567.75"/>
<path class="b" d="M369.9,484.25 L374.25,485.50 C374.25,485.50 375.00,478.92 375.50,476.75 C376.00,474.58 377.00,470.58 378.00,469.25 C379.00,467.92 381.17,467.17 383.00,466.75 C384.83,466.33 389.75,465.77 391.75,466.10 C393.75,466.43 398.00,469.25 398.00,469.25 L408.00,474.90 L420.00,472.75 L432.50,476.00 L455.00,472.75 L463.75,474.00 L476.25,469.50"/>
<path class="b" d="M490.25,368.25 L492.75,384.50 L498.50,395.75 L495.00,421.50 L492.50,436.50 L480.00,450.25 C480.00,450.25 474.25,456.43 473.75,459.00 C473.25,461.57 476.25,469.50 476.25,469.50"/>
<path class="b" d="M476.25,469.5 C476.25,469.50 478.67,474.73 480.00,476.50 C481.33,478.27 486.25,482.75 486.25,482.75 L490.00,494.00 L492.00,505.25 C492.00,505.25 483.93,507.83 482.50,509.00 C481.07,510.17 481.25,514.00 481.25,514.00 L490.00,529.00 L492.00,534.00"/>
<path class="b" d="M486.25,484 L480.00,494.00 L471.25,497.75 L465.00,514.00 L458.75,527.75 L452.50,544.00 C452.50,544.00 445.92,546.67 443.75,546.50 C441.58,546.33 438.25,542.25 436.25,542.75 C434.25,543.25 430.75,548.25 428.75,550.25 C426.75,552.25 422.25,555.42 421.25,557.75 C420.25,560.08 421.25,567.75 421.25,567.75"/>
<path class="b" d="M431.5,219 C431.50,219.00 429.75,226.77 429.75,229.50 C429.75,232.23 431.77,237.17 431.50,239.50 C431.23,241.83 429.15,245.50 427.75,247.00 C426.35,248.50 421.90,249.25 421.00,250.75 C420.10,252.25 421.00,258.25 421.00,258.25 L430.25,269.50 L435.75,271.50"/>
<path class="b" d="M459,264.5 C459.00,264.50 453.33,270.73 451.50,272.00 C449.67,273.27 446.25,272.33 445.25,274.00 C444.25,275.67 445.00,282.77 444.00,284.50 C443.00,286.23 437.75,287.00 437.75,287.00"/>
<path class="b" d="M435.75,271.5 L437.75,292.00 L439.50,302.00 L439.50,332.00 C439.50,332.00 435.75,334.83 435.75,336.50 C435.75,338.17 438.73,342.27 439.50,344.50 C440.27,346.73 439.90,351.75 441.50,353.25 C443.10,354.75 449.33,354.32 451.50,355.75 C453.67,357.18 457.75,364.00 457.75,364.00"/>
<path class="b" d="M457.75,364 L469.00,366.25 C469.00,366.25 475.75,368.50 477.75,369.50 C479.75,370.50 482.33,373.92 484.00,373.75 C485.67,373.58 490.25,368.25 490.25,368.25"/>
<path class="b" d="M490.25,368.25 C490.25,368.25 496.83,365.33 499.00,365.00 C501.17,364.67 506.50,365.75 506.50,365.75 L579.00,405.75"/>
<path class="b" d="M589,272.5 L586.50,287.00 L589.00,297.00 L589.50,378.25"/>
<path class="b" d="M589.5,378.25 L668.50,378.25 C668.50,378.25 676.67,380.92 678.50,380.75 C680.33,380.58 681.58,378.10 682.25,377.00 C682.92,375.90 683.50,372.50 683.50,372.50 L695.50,370.00"/>
<path class="b" d="M589.5,378.25 L589.50,399.00 C589.50,399.00 581.65,398.60 580.25,399.50 C578.85,400.40 579.00,405.75 579.00,405.75"/>
<path class="b" d="M579,405.75 L579.00,446.50 C579.00,446.50 573.77,446.42 572.00,447.75 C570.23,449.08 567.42,454.17 565.75,456.50 C564.08,458.83 559.50,465.25 559.50,465.25 L558.25,479.00 L563.25,484.00 L565.75,496.50"/>
<path class="b" d="M492,534 L497.50,533.50 L515.00,530.25 L527.50,526.50 L528.25,521.50 L544.50,514.00 L554.50,501.50 C554.50,501.50 559.25,498.08 560.75,497.75 C562.25,497.42 565.75,499.00 565.75,499.00"/>
<path class="b" d="M565.75,499 L574.50,511.50 L575.75,519.00 L587.00,526.50 L597.00,534.00 L603.25,546.50 C603.25,546.50 608.83,548.92 609.50,550.25 C610.17,551.58 608.25,556.50 608.25,556.50"/>
<path class="b" d="M574.5,511.5 C574.50,511.50 582.17,510.17 584.50,509.00 C586.83,507.83 589.83,503.58 592.00,502.75 C594.17,501.92 598.75,501.92 600.75,502.75 C602.75,503.58 605.33,508.23 607.00,509.00 C608.67,509.77 612.25,508.17 613.25,508.50 C614.25,508.83 613.33,510.83 614.50,511.50 C615.67,512.17 619.67,513.83 622.00,513.50 C624.33,513.17 629.50,510.33 632.00,509.00 C634.50,507.67 638.58,503.67 640.75,503.50 C642.92,503.33 646.08,507.68 648.25,507.75 C650.42,507.82 654.83,505.50 657.00,504.00 C659.17,502.50 663.43,498.83 664.50,496.50 C665.57,494.17 664.17,488.17 665.00,486.50 C665.83,484.83 670.75,484.00 670.75,484.00 C670.75,484.00 672.25,491.50 673.25,494.00 C674.25,496.50 677.08,501.08 678.25,502.75 C679.42,504.42 682.00,506.50 682.00,506.50"/>
<path class="b" d="M682,506.5 L688.75,494.00 L693.75,482.75 C693.75,482.75 695.20,479.57 696.00,478.60 C696.80,477.63 698.75,476.91 699.75,475.50 C700.75,474.09 702.83,470.33 703.50,468.00 C704.17,465.67 704.58,460.17 704.75,458.00 C704.92,455.83 704.08,453.58 704.75,451.75 C705.42,449.92 709.17,445.92 709.75,444.25 C710.33,442.58 708.93,441.00 709.10,439.25 C709.27,437.50 711.00,431.10 711.00,431.10 L724.75,423.00"/>
<path class="b" d="M704.75,458 C704.75,458.00 707.17,459.17 708.50,459.25 C709.83,459.33 713.25,459.02 714.75,458.60 C716.25,458.18 718.42,456.01 719.75,456.10 C721.08,456.19 723.75,459.00 724.75,459.25 C725.75,459.50 727.25,458.00 727.25,458.00 L738.50,459.25 C738.50,459.25 744.00,461.67 746.00,463.00 C748.00,464.33 751.67,467.58 753.50,469.25 C755.33,470.92 758.50,474.00 759.75,475.50 C761.00,477.00 762.90,480.50 762.90,480.50"/>
<path class="b" d="M762.9,480.5 C762.90,480.50 759.17,486.00 758.50,488.00 C757.83,490.00 757.90,494.25 757.90,495.50 C757.90,496.75 757.17,497.15 758.50,497.40 C759.83,497.65 767.90,497.40 767.90,497.40"/>
<path class="b" d="M768.5,498 C768.50,498.00 769.08,502.75 769.75,504.25 C770.42,505.75 772.00,507.75 773.50,509.25 C775.00,510.75 781.00,515.50 781.00,515.50 L793.50,520.50 L806.00,525.50 C806.00,525.50 812.72,528.95 814.75,529.25 C816.78,529.55 821.25,527.75 821.25,527.75 L812.50,539.00 L800.00,551.50 L790.00,559.00 L775.00,562.75 L765.00,567.75 L758.75,571.50"/>
<path class="b" d="M758.75,571.5 C758.75,571.50 753.93,574.83 752.50,576.50 C751.07,578.17 748.00,584.00 748.00,584.00 L750.00,609.00 L752.50,624.00 L756.25,627.00"/>
<path class="b" d="M682,506.5 C682.00,506.50 677.70,512.00 677.50,514.00 C677.30,516.00 681.00,520.00 680.50,521.50 C680.00,523.00 674.65,523.58 673.75,525.25 C672.85,526.92 672.42,532.33 673.75,534.00 C675.08,535.67 683.75,537.75 683.75,537.75 L692.50,549.00 L701.25,562.00"/>
<path class="b" d="M608.25,556.5 L619.50,565.25 L632.00,566.50 L642.00,570.25 L662.00,572.75 L680.00,571.50 L682.50,566.50 L701.25,562.00"/>
<path class="b" d="M701.25,562 L712.50,570.25 L725.00,576.00 C725.00,576.00 732.67,576.77 735.00,576.00 C737.33,575.23 742.50,570.25 742.50,570.25 L758.75,571.00"/>
<path class="b" d="M497,581.5 L505.00,576.50 L522.50,577.75 C522.50,577.75 524.40,571.00 525.00,569.00 C525.60,567.00 527.00,562.75 527.00,562.75 L542.00,569.00 L564.50,570.25 L577.00,564.00 L594.50,557.75 L608.25,556.50"/>
<path class="b" d="M492,534 L485.00,541.50 L481.25,554.00 L482.50,564.00 L492.50,576.50 L497.00,581.50"/>
<path class="b" d="M428.75,599 L442.50,598.40 C442.50,598.40 442.50,595.67 443.00,595.00 C443.50,594.33 446.25,593.40 446.25,593.40 L475.00,592.10 L490.00,591.50 C490.00,591.50 492.92,594.66 493.75,595.25 C494.58,595.84 495.42,596.73 496.25,595.90 C497.08,595.07 500.00,590.92 500.00,589.00 C500.00,587.08 496.25,581.50 496.25,581.50"/>
<path class="b" d="M475,592.1 C475.00,592.10 467.42,595.25 466.25,596.50 C465.08,597.75 465.08,600.67 466.25,601.50 C467.42,602.33 473.00,602.25 475.00,602.75 C477.00,603.25 481.25,605.25 481.25,605.25 C481.25,605.25 478.33,610.17 477.50,611.50 C476.67,612.83 474.83,614.08 475.00,615.25 C475.17,616.42 478.25,618.75 478.75,620.25 C479.25,621.75 479.08,625.00 478.75,626.50 C478.42,628.00 476.83,630.00 476.25,631.50 C475.67,633.00 475.73,636.58 474.40,637.75 C473.07,638.92 468.17,640.00 466.25,640.25 C464.33,640.50 461.50,640.18 460.00,639.60 C458.50,639.02 456.17,636.31 455.00,635.90 C453.83,635.49 451.25,636.50 451.25,636.50 L450.00,647.75 L446.90,654.60"/>
<path class="b" d="M472.5,600 L480,599.5"/>
<path class="b" d="M523.75,575.25 L521.25,587.75 L516.25,602.75 L512.50,616.50 L506.25,626.50 L497.50,639.00 L496.25,651.50 L487.50,659.00 L482.50,665.90 C482.50,665.90 482.25,662.17 481.25,661.50 C480.25,660.83 476.83,660.73 475.00,660.90 C473.17,661.07 469.33,662.26 467.50,662.75 C465.67,663.24 462.75,665.27 461.25,664.60 C459.75,663.93 456.25,657.75 456.25,657.75 L453.75,665.25"/>
<path class="b" d="M455.75,675.5 L480.00,675.00 L502.60,674.75 L508.25,694.75 C508.25,694.75 516.75,694.98 518.25,694.75 C519.75,694.52 518.33,693.17 519.50,693.00 C520.67,692.83 525.50,693.69 527.00,693.50 C528.50,693.31 530.16,692.60 530.75,691.60 C531.34,690.60 529.90,686.75 531.40,686.00 C532.90,685.25 540.25,685.75 542.00,686.00 C543.75,686.25 542.91,687.60 544.50,687.90 C546.09,688.20 553.90,688.25 553.90,688.25 L553.90,702.25 L555.10,716.00 C555.10,716.00 557.73,722.17 558.25,723.50 C558.77,724.83 558.73,725.17 559.00,726.00 C559.27,726.83 560.25,729.75 560.25,729.75 L574.00,729.75 L576.50,727.25 L579.00,736.00 L571.50,748.50 L555.25,749.75 L553.60,787.90 C553.60,787.90 560.50,787.49 561.75,787.90 C563.00,788.31 562.17,790.33 563.00,791.00 C563.83,791.67 566.50,792.49 568.00,792.90 C569.50,793.31 574.25,794.10 574.25,794.10"/>
<path class="b" d="M451,792.25 L469.75,791.75 L474.75,794.25 L521.00,795.00 L524.75,799.25 L563.00,799.10 L564.25,797.90 L579.25,797.50 L585.50,798.50"/>
<path class="b" d="M579.25,797.5 C579.25,797.50 579.10,802.37 578.60,803.50 C578.10,804.63 576.75,805.41 575.50,806.00 C574.25,806.59 570.42,807.90 569.25,807.90 C568.08,807.90 567.25,806.33 566.75,806.00 C566.25,805.67 565.50,805.40 565.50,805.40 L544.90,806.00"/>
<path class="b" d="M544.9,806 L546.75,819.75 L549.90,844.10 L536.10,844.75 L535.50,873.50 L534.90,904.00 C534.90,904.00 534.69,911.13 533.50,913.00 C532.31,914.87 528.33,917.50 526.00,918.00 C523.67,918.50 518.33,917.58 516.00,916.75 C513.67,915.92 510.50,912.25 508.50,911.75 C506.50,911.25 501.00,913.00 501.00,913.00"/>
<path class="b" d="M625.5,844.1 L583.00,886.60 L568.00,878.50 C568.00,878.50 565.91,873.75 565.50,872.25 C565.09,870.75 564.90,867.25 564.90,867.25"/>
<path class="b" d="M568,879.75 L553.00,893.50 L541.75,894.75 L541.10,882.25 C541.10,882.25 540.00,874.83 539.25,873.50 C538.50,872.17 535.50,872.25 535.50,872.25"/>
<path class="b" d="M577,727.5 C577.00,727.50 582.07,729.53 584.00,731.00 C585.93,732.47 591.50,738.50 591.50,738.50 L604.00,736.00 C604.00,736.00 606.47,736.99 608.00,738.00 C609.53,739.01 613.83,742.27 615.50,743.60 C617.17,744.93 619.17,746.91 620.50,748.00 C621.83,749.09 623.83,751.25 625.50,751.75 C627.17,752.25 633.00,751.75 633.00,751.75 L633.00,742.40 L621.75,741.10 C621.75,741.10 619.81,739.58 619.90,738.00 C619.99,736.42 622.40,729.25 622.40,729.25 L623.00,716.75 C623.00,716.75 620.67,714.75 620.50,713.00 C620.33,711.25 621.75,703.60 621.75,703.60 L643.00,699.90"/>
<path class="b" d="M574.25,794.1 C574.25,794.10 577.75,796.91 579.25,797.50 C580.75,798.09 585.50,798.50 585.50,798.50 L598.00,798.50 C598.00,798.50 605.08,797.52 606.75,796.60 C608.42,795.68 609.33,792.85 610.50,791.60 C611.67,790.35 613.83,788.41 615.50,787.25 C617.17,786.09 621.67,783.90 623.00,782.90 C624.33,781.90 624.33,780.34 625.50,779.75 C626.67,779.16 630.42,778.50 631.75,778.50 C633.08,778.50 635.50,779.75 635.50,779.75"/>
<path class="b" d="M633,779.9 L649.25,783.00 C649.25,783.00 657.16,784.83 659.25,785.50 C661.34,786.17 664.90,788.00 664.90,788.00 L665.50,813.00 C665.50,813.00 667.75,817.53 666.75,819.00 C665.75,820.47 658.00,824.00 658.00,824.00 L656.00,837.25 C656.00,837.25 652.82,838.75 651.75,839.75 C650.68,840.75 649.50,843.92 648.00,844.75 C646.50,845.58 642.17,846.09 640.50,846.00 C638.83,845.91 637.50,844.60 635.50,844.10 C633.50,843.60 628.17,842.83 625.50,842.25 C622.83,841.67 617.42,840.75 615.50,839.75 C613.58,838.75 611.60,836.25 611.10,834.75 C610.60,833.25 612.16,830.08 611.75,828.50 C611.34,826.92 609.17,824.07 608.00,822.90 C606.83,821.73 604.67,820.67 603.00,819.75 C601.33,818.83 597.17,817.33 595.50,816.00 C593.83,814.67 591.33,811.42 590.50,809.75 C589.67,808.08 589.92,804.92 589.25,803.50 C588.58,802.08 585.50,799.10 585.50,799.10"/>
<path class="b" d="M655.5,788 L656,792"/>
<path class="b" d="M668,712.4 C668.00,712.40 669.83,713.15 670.50,714.90 C671.17,716.65 673.17,723.09 673.00,725.50 C672.83,727.91 669.92,730.83 669.25,733.00 C668.58,735.17 668.58,739.58 668.00,741.75 C667.42,743.92 664.90,749.25 664.90,749.25 L665.50,760.50 C665.50,760.50 660.33,762.17 658.00,763.00 C655.67,763.83 649.67,765.92 648.00,766.75 C646.33,767.58 645.50,769.25 645.50,769.25 L634.90,772.40 L634.90,780.50"/>
<path class="b" d="M665.5,760.5 C665.50,760.50 672.25,760.60 674.25,761.10 C676.25,761.60 680.50,764.25 680.50,764.25"/>
<path class="b" d="M645.5,696.75 L650.50,704.25 L660.50,709.25 L668.00,712.40 L681.75,711.75"/>
<path class="b" d="M743,725 C743.00,725.00 737.67,725.53 736.00,726.10 C734.33,726.67 732.57,728.58 730.50,729.25 C728.43,729.92 723.17,730.35 720.50,731.10 C717.83,731.85 712.83,734.81 710.50,734.90 C708.17,734.99 703.00,731.75 703.00,731.75 L690.50,733.60"/>
<path class="b" d="M685.5,749.25 C685.50,749.25 690.42,754.75 691.75,756.75 C693.08,758.75 694.92,762.42 695.50,764.25 C696.08,766.08 696.27,768.67 696.10,770.50 C695.93,772.33 694.80,776.07 694.25,778.00 C693.70,779.93 692.67,783.17 692.00,785.00 C691.33,786.83 689.25,791.75 689.25,791.75 C689.25,791.75 686.67,788.08 685.50,786.75 C684.33,785.42 681.50,783.08 680.50,781.75 C679.50,780.42 678.00,778.25 678.00,776.75 C678.00,775.25 680.00,772.33 680.50,770.50 C681.00,768.67 681.42,765.33 681.75,763.00 C682.08,760.67 683.17,755.17 683.00,753.00 C682.83,750.83 680.50,746.75 680.50,746.75"/>
<path class="b" d="M679.5,713 L679.90,725.50 L678.50,738.00 L680.50,746.75"/>
<path class="b" d="M648.6,846 L649.25,856.00 L652.40,871.00 L651.10,886.00 C651.10,886.00 650.75,888.77 652.00,889.50 C653.25,890.23 660.50,891.50 660.50,891.50"/>
<path class="b" d="M645.5,574 C645.50,574.00 644.31,580.15 644.90,582.25 C645.49,584.35 649.99,587.75 649.90,589.75 C649.81,591.75 645.42,595.25 644.25,597.25 C643.08,599.25 642.10,603.08 641.10,604.75 C640.10,606.42 637.58,607.92 636.75,609.75 C635.92,611.58 635.32,616.17 634.90,618.50 C634.48,620.83 633.60,627.25 633.60,627.25"/>
<path class="b" d="M633,628 C633.00,628.00 635.83,626.57 637.00,626.30 C638.17,626.03 640.42,625.77 641.75,626.00 C643.08,626.23 646.37,626.93 647.00,628.00 C647.63,629.07 646.70,632.27 646.50,634.00 C646.30,635.73 645.70,639.00 645.50,641.00 C645.30,643.00 645.60,647.13 645.00,649.00 C644.40,650.87 642.07,653.53 641.00,655.00 C639.93,656.47 637.00,660.00 637.00,660.00 C637.00,660.00 634.43,653.73 633.50,652.00 C632.57,650.27 630.73,648.47 630.00,647.00 C629.27,645.53 628.07,642.87 628.00,641.00 C627.93,639.13 628.83,634.73 629.50,633.00 C630.17,631.27 633.00,628.00 633.00,628.00"/>
<path class="b" d="M647,628 C647.00,628.00 649.45,629.60 650.00,630.50 C650.55,631.40 651.20,633.35 651.10,634.75 C651.00,636.15 649.25,641.00 649.25,641.00"/>
<path class="b" d="M634.5,630.5 L645,636"/>
<path class="b" d="M631,644 L645,644"/>
<path class="b" d="M680,572 C680.00,572.00 681.77,574.63 683.00,576.00 C684.23,577.37 689.25,582.25 689.25,582.25 L689.90,598.50 C689.90,598.50 687.67,604.23 686.75,605.40 C685.83,606.57 683.00,607.25 683.00,607.25"/>
<path class="b" d="M680.5,625.4 L714.25,644.10 L716.10,651.00 L733.00,661.00"/>
<path class="b" d="M667.5,640 L667.4,646.6"/>
<polyline points="336,499.25 337.4,503.6 343,509.25 343.6,529.25 346.75,540.5 350.5,545.5" fill="none" stroke="#ffffff" stroke-width="1.3" stroke-opacity="0.85"/><ellipse cx="645" cy="892.1" rx="6.9" ry="6.6" fill="#0B3B68" stroke="#ffffff" stroke-width="2.4"/><path d="M603.4,922.3 L608,919.5 Q612,917.5 613.5,914.8 Q616.5,913 619,914.2 Q622.3,916.5 622.6,920 L622,924 L611.3,934.4 L607.6,932 Z" fill="#0B3B68" stroke="#ffffff" stroke-width="2.2" stroke-linejoin="round"/><path d="M602.5,935.2 L611,935" stroke="#ffffff" stroke-width="2" fill="none"/><circle cx="658.5" cy="609.5" r="0.9" fill="#0B3B68"/><circle cx="662.3" cy="609.5" r="0.9" fill="#0B3B68"/><circle cx="680" cy="608.8" r="1" fill="#0B3B68"/>
</g>
<circle cx="174.5" cy="310.8" r="1.2" fill="#0B3B68"/><circle cx="182" cy="314.5" r="1.7" fill="#0B3B68"/><circle cx="186.5" cy="312" r="1.2" fill="#0B3B68"/><circle cx="188.3" cy="317.3" r="1" fill="#0B3B68"/><circle cx="192.8" cy="317.5" r="1.7" fill="#0B3B68"/><circle cx="205.8" cy="313.2" r="1.2" fill="#0B3B68"/><circle cx="210.5" cy="308.8" r="1.6" fill="#0B3B68"/><path d="M417.2,578.3 l1.8,-0.9 l2.6,8 l-2,1.2z" fill="#0B3B68" stroke="#0B3B68" stroke-width="0.5"/><circle cx="402.3" cy="597.6" r="1.1" fill="#0B3B68"/><circle cx="406.5" cy="598.3" r="1.1" fill="#0B3B68"/><path d="M395.5,615.3 l9,-8 l1.8,1.8 l-9,8z" fill="#0B3B68" stroke="#0B3B68" stroke-width="0.4"/><circle cx="737" cy="444.9" r="1" fill="#0B3B68"/><circle cx="742.25" cy="448" r="1.1" fill="#0B3B68"/><circle cx="732.4" cy="676" r="1.3" fill="#0B3B68"/><circle cx="737.25" cy="665.9" r="0.8" fill="#0B3B68"/><circle cx="735.1" cy="701.9" r="0.8" fill="#0B3B68"/><circle cx="745.75" cy="640" r="0.8" fill="#0B3B68"/>
</g>
<g id="logo">
<rect x="91.2" y="32.5" width="21.3" height="21.2" fill="#FBC01F"/>
<path d="M72.5,44 Q102.5,71.5 132.5,45 L143.2,64 L119,75 L131.2,93 L117.5,105.8 L102.5,87.5 L86.8,107 L72.5,94.5 L86,75 L61.2,64 Z" fill="#FBC01F" stroke="#FBC01F" stroke-width="1.5" stroke-linejoin="round"/>
<path d="M150,59.2 L170.8,59.2 L170,82 Q181,80 191.2,72.5 L200.5,92 L176.2,103 L190.5,121.8 L177,135 L160,115 L145,134.2 L132,122 L145,102.5 L128.8,96.2 L123.8,80 L131.2,72.5 Q141,80 152,81.5 Z" fill="#0F3461" stroke="#0F3461" stroke-width="1.5" stroke-linejoin="round"/>
<path d="M62,106.2 L81.8,106.2 L80,128 L63.8,128 Z" fill="#1E4197"/>
<path d="M43.8,120.8 Q72.5,141 100,120 L108,136.2 L83.8,148.8 L98.2,165 L86.2,177 L71.2,160 L55,177.5 L42,165 L57.5,147.5 L34.2,137 Z" fill="#1E4197" stroke="#1E4197" stroke-width="1.5" stroke-linejoin="round"/>
<text x="103.8" y="172.5" font-size="27" font-weight="bold" fill="#0F2F57" textLength="114.5" lengthAdjust="spacingAndGlyphs">AfroLingo</text>
</g>
<g id="title" fill="#0F2F57" font-size="44.5">
<text y="77.6"><tspan x="233" textLength="117" lengthAdjust="spacingAndGlyphs" stroke="#0F2F57" stroke-width="0.6">Figure</tspan> <tspan x="359.5" textLength="39.5" lengthAdjust="spacingAndGlyphs" stroke="#0F2F57" stroke-width="0.6">1.1</tspan> <tspan x="425.6" font-weight="bold" textLength="353.5" lengthAdjust="spacingAndGlyphs">AFCFTA MEMBER</tspan></text>
<text x="233.5" y="134.8" font-weight="bold" textLength="550.5" lengthAdjust="spacingAndGlyphs">COUNTRIES, BY STATUS OF</text>
<text x="232" y="193" font-weight="bold" textLength="289.5" lengthAdjust="spacingAndGlyphs">RATIFICATION</text>
</g>
<g id="legend" fill="#0C2747" stroke="#0C2747" stroke-width="0.7" font-size="25.5">
<rect x="74.5" y="767.2" width="24.2" height="24.2" fill="#3D8C34" stroke="none"/>
<rect x="74.5" y="804.5" width="24.2" height="23.8" fill="#0B3B68" stroke="none"/>
<rect x="74.5" y="841.5" width="24.2" height="23.8" fill="#E53B39" stroke="none"/>
<text x="111.6" y="787.9" textLength="326.5" lengthAdjust="spacingAndGlyphs">Instrument of ratification deposited</text>
<text x="111.6" y="824.2" textLength="248.4" lengthAdjust="spacingAndGlyphs">AFCFTA agreement signed</text>
<text x="111.6" y="860.5" textLength="283.6" lengthAdjust="spacingAndGlyphs">AFCFTA agreement not signed</text>
</g>
<g id="labels" font-size="17.5">
<text x="177.5" y="278.8" font-size="18.3" class="n" textLength="61.9" lengthAdjust="spacingAndGlyphs">Maracco</text>
<text x="263.5" y="274.5" font-size="17" class="w" textLength="56.5" lengthAdjust="spacingAndGlyphs">Marocos</text>
<text x="345" y="324" font-size="17" class="w" textLength="47.5" lengthAdjust="spacingAndGlyphs">Algeria</text>
<text x="486.5" y="339" font-size="17" class="w" textLength="42" lengthAdjust="spacingAndGlyphs">Sudon</text>
<text x="617.75" y="339.5" font-size="17" class="w" textLength="37.75" lengthAdjust="spacingAndGlyphs">Egypt</text>
<text x="106" y="377.5" font-size="17" class="n" textLength="75.5" lengthAdjust="spacingAndGlyphs">Mauritania</text>
<text x="192.5" y="416.5" font-size="17" class="w" textLength="72.5" lengthAdjust="spacingAndGlyphs">Mauritonle</text>
<text x="312.5" y="435" font-size="17" class="w" textLength="27" lengthAdjust="spacingAndGlyphs">Mali</text>
<text x="417.5" y="432" font-size="17" class="w" textLength="34.5" lengthAdjust="spacingAndGlyphs">Niger</text>
<text x="510" y="459" font-size="17" class="w" textLength="33.75" lengthAdjust="spacingAndGlyphs">Chad</text>
<text x="621.25" y="448.5" font-size="17" class="w" textLength="42.75" lengthAdjust="spacingAndGlyphs">Sudan</text>
<text x="757" y="425.75" font-size="17" class="n" textLength="44.5" lengthAdjust="spacingAndGlyphs">Redred</text>
<text x="112.5" y="482.5" font-size="16.5" class="n" font-weight="bold" style="stroke-width:0.1px" textLength="36" lengthAdjust="spacingAndGlyphs">Essca</text>
<text x="66" y="501.5" font-size="16.5" class="n" font-weight="bold" style="stroke-width:0.1px" textLength="92.5" lengthAdjust="spacingAndGlyphs">Burkino Fassa</text>
<text x="110" y="525.5" font-size="17" class="n" textLength="80" lengthAdjust="spacingAndGlyphs">Sierra Leane</text>
<text x="298.75" y="493" font-size="17" class="w" textLength="46" lengthAdjust="spacingAndGlyphs">Burkina</text>
<text x="309.5" y="545" font-size="17" class="w" textLength="39.5" lengthAdjust="spacingAndGlyphs">Griaro</text>
<text x="392.5" y="516.5" font-size="17" class="w" textLength="47" lengthAdjust="spacingAndGlyphs">Nigeria</text>
<text x="204.25" y="588.5" font-size="17" class="n" textLength="69.25" lengthAdjust="spacingAndGlyphs">Equatarial</text>
<text x="288.75" y="598.5" font-size="17" class="n" textLength="104.75" lengthAdjust="spacingAndGlyphs">Gumeen Basau</text>
<text x="276" y="629" font-size="17" class="n" textLength="110.5" lengthAdjust="spacingAndGlyphs">Selenera Gulnea</text>
<text x="431.75" y="579" font-size="17" class="w" textLength="54.5" lengthAdjust="spacingAndGlyphs">Camorcc</text>
<text x="429.5" y="629" font-size="18" class="w" textLength="45" lengthAdjust="spacingAndGlyphs">Gebor</text>
<text x="515.75" y="547.5" font-size="17" class="w" textLength="50" lengthAdjust="spacingAndGlyphs">Contral</text>
<text x="517.5" y="563.25" font-size="17" class="w" textLength="48.75" lengthAdjust="spacingAndGlyphs">Spence</text>
<text x="616.5" y="538.25" font-size="17" class="w" textLength="40" lengthAdjust="spacingAndGlyphs">South</text>
<text x="617" y="555.25" font-size="17" class="w" textLength="42.5" lengthAdjust="spacingAndGlyphs">Sation</text>
<text x="705.5" y="526.3" font-size="17.2" class="w" textLength="56" lengthAdjust="spacingAndGlyphs">Ethiopia</text>
<text x="776.5" y="592.75" font-size="17" class="n" font-weight="bold" style="stroke-width:0.1px" textLength="42.25" lengthAdjust="spacingAndGlyphs">Rodya</text>
<text x="869.5" y="578.5" font-size="17" class="n" textLength="25" lengthAdjust="spacingAndGlyphs">Red</text>
<text x="695.5" y="614.75" font-size="17" class="w" textLength="41.5" lengthAdjust="spacingAndGlyphs">Kenya</text>
<text x="543.25" y="637.6" font-size="17.5" class="w" textLength="60" lengthAdjust="spacingAndGlyphs">of Gongo</text>
<text x="653.5" y="687.75" font-size="18" class="w" textLength="58" lengthAdjust="spacingAndGlyphs">Zamabis</text>
<text x="485.25" y="746" font-size="17" class="w" textLength="48.75" lengthAdjust="spacingAndGlyphs">Angota</text>
<text x="565.25" y="777.75" font-size="18" class="w" textLength="53.75" lengthAdjust="spacingAndGlyphs">Zambia</text>
<text x="601.4" y="817.6" font-size="16.3" class="w" textLength="66.85" lengthAdjust="spacingAndGlyphs">kanbartylng</text>
<text x="479.75" y="842.5" font-size="17" class="w" textLength="54.25" lengthAdjust="spacingAndGlyphs">Nambia</text>
<text x="544.75" y="861.75" font-size="17.3" class="w" textLength="65" lengthAdjust="spacingAndGlyphs">Botswarr</text>
<text x="545.5" y="941.75" font-size="17" class="w" textLength="40" lengthAdjust="spacingAndGlyphs">Sauth</text>
<text x="545.5" y="959.25" font-size="17" class="w" textLength="40.5" lengthAdjust="spacingAndGlyphs">Africa</text>
<text x="766" y="744.75" font-size="17" class="n" textLength="54.5" lengthAdjust="spacingAndGlyphs">Comoras</text>
<text x="859.5" y="837" font-size="17" class="n" textLength="66" lengthAdjust="spacingAndGlyphs">Mauritius</text>
<text x="668.9" y="913.5" font-size="17" class="n" textLength="71.5" lengthAdjust="spacingAndGlyphs">Miaxailand</text>
<text y="619.25" font-size="21" class="w"><tspan x="545.1" textLength="42.5" lengthAdjust="spacingAndGlyphs">Rep E</tspan><tspan x="588" textLength="3.4" lengthAdjust="spacingAndGlyphs" style="fill:#E8EEF5;fill-opacity:0.75;stroke:none">l</tspan><tspan x="591.6" textLength="8.8" lengthAdjust="spacingAndGlyphs" style="fill:#5B86BE;stroke:none">e</tspan></text><text x="859.5" y="676" font-size="17" font-weight="bold" fill="#D9302E" textLength="28.5" lengthAdjust="spacingAndGlyphs">Red</text><text y="464" font-size="15" font-weight="bold" class="n" style="stroke-width:0.1px"><tspan x="81.5" textLength="48" lengthAdjust="spacingAndGlyphs">Gambly</tspan><tspan x="130" font-size="13" textLength="7.5" lengthAdjust="spacingAndGlyphs" style="fill-opacity:0.6;stroke:none">e</tspan></text>
</g>
</svg>
</body></html>
